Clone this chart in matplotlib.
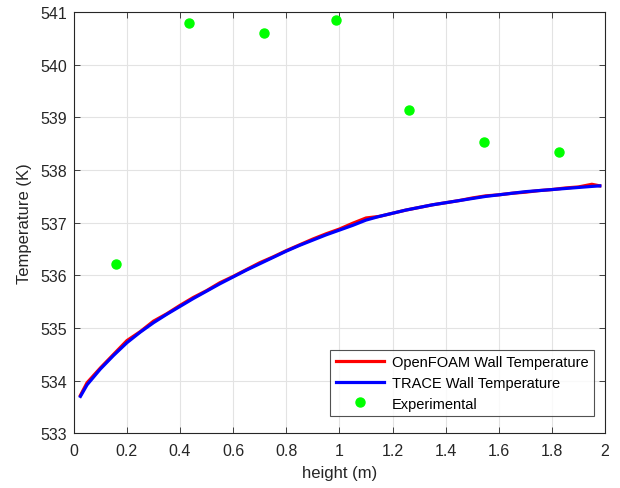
import matplotlib
matplotlib.use("Agg")
import matplotlib.pyplot as plt

plt.rcParams['font.family'] = ['Liberation Sans', 'DejaVu Sans']

x_sim = [0.025, 0.05, 0.1, 0.15, 0.2, 0.25, 0.3, 0.35, 0.4, 0.45, 0.5, 0.55, 0.6,
         0.65, 0.7, 0.75, 0.8, 0.85, 0.9, 0.95, 1.0, 1.05, 1.1, 1.15, 1.2, 1.25,
         1.3, 1.35, 1.4, 1.45, 1.5, 1.55, 1.6, 1.65, 1.7, 1.75, 1.8, 1.85, 1.9,
         1.95, 1.98]
t_openfoam = [533.72, 533.96, 534.24, 534.50, 534.76, 534.93, 535.13, 535.27, 535.43,
              535.58, 535.71, 535.86, 535.98, 536.11, 536.24, 536.35, 536.47, 536.58,
              536.69, 536.79, 536.88, 536.99, 537.09, 537.12, 537.18, 537.24, 537.29,
              537.34, 537.38, 537.42, 537.47, 537.51, 537.53, 537.56, 537.58, 537.61,
              537.63, 537.66, 537.68, 537.73, 537.70]
t_trace = [533.70, 533.92, 534.22, 534.48, 534.72, 534.92, 535.10, 535.26, 535.41,
           535.56, 535.70, 535.84, 535.97, 536.10, 536.22, 536.34, 536.46, 536.57,
           536.67, 536.77, 536.86, 536.95, 537.05, 537.12, 537.18, 537.24, 537.29,
           537.34, 537.38, 537.42, 537.46, 537.50, 537.53, 537.56, 537.59, 537.61,
           537.63, 537.65, 537.67, 537.69, 537.70]
x_exp = [0.158, 0.433, 0.716, 0.987, 1.262, 1.545, 1.825]
t_exp = [536.22, 540.80, 540.61, 540.85, 539.15, 538.53, 538.34]

xticks = [0, 0.2, 0.4, 0.6, 0.8, 1, 1.2, 1.4, 1.6, 1.8, 2]
xticklabels = ['0', '0.2', '0.4', '0.6', '0.8', '1', '1.2', '1.4', '1.6', '1.8', '2']
yticks = [533, 534, 535, 536, 537, 538, 539, 540, 541]

fig = plt.figure(figsize=(6.2, 4.89), dpi=100)
ax = fig.add_axes([0.119, 0.112, 0.857, 0.861])

ax.plot(x_sim, t_openfoam, color='#ff0000', lw=2.3, label='OpenFOAM Wall Temperature')
ax.plot(x_sim, t_trace, color='#0000ff', lw=2.3, label='TRACE Wall Temperature')
ax.plot(x_exp, t_exp, 'o', color='#00ff00', ms=6.5, mec='#00ff00',
        label='Experimental')

ax.set_xlim(0, 2)
ax.set_ylim(533, 541)
ax.set_xticks(xticks)
ax.set_xticklabels(xticklabels)
ax.set_yticks(yticks)
ax.tick_params(direction='in', length=4, width=0.6, labelsize=11.5, colors='#262626',
               top=True, right=True)
ax.tick_params(axis='x', pad=7)
ax.tick_params(axis='y', pad=5)
for lab in ax.get_xticklabels() + ax.get_yticklabels():
    lab.set_color('#262626')
ax.grid(True, color='#e3e3e3', lw=0.8)
ax.set_axisbelow(True)
for s in ax.spines.values():
    s.set_color('#262626')
    s.set_linewidth(0.8)

ax.set_xlabel('height (m)', fontsize=12, color='#262626', labelpad=5)
ax.set_ylabel('Temperature (K)', fontsize=12, color='#262626', labelpad=6)

leg = ax.legend(loc='lower right', bbox_to_anchor=(0.979, 0.040), borderaxespad=0,
                fontsize=10.5, frameon=True, fancybox=False, edgecolor='#262626',
                handlelength=3.3, handletextpad=0.5, labelspacing=0.45,
                borderpad=0.4)
leg.get_frame().set_linewidth(0.8)

fig.savefig('out.png', dpi=100)
